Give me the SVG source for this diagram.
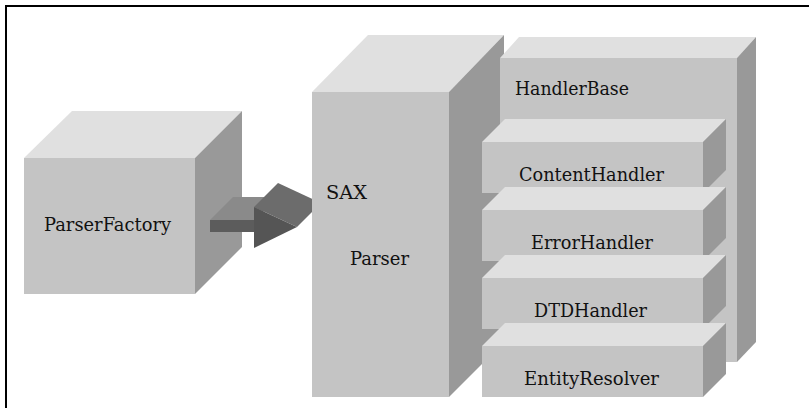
<svg xmlns="http://www.w3.org/2000/svg" width="809" height="408" viewBox="0 0 809 408">
  <style>
    .front { fill: #c4c4c4; }
    .top { fill: #e0e0e0; }
    .side { fill: #999999; }
  </style>
  <rect width="809" height="408" fill="#ffffff"/>
  <!-- frame: only top and left edges fall inside the page -->
  <path d="M6,408 V6 H809" fill="none" stroke="#000000" stroke-width="2"/>

  <g font-family="DejaVu Serif, serif" font-size="19" fill="#111111">
  <g id="parser-factory">
    <polygon class="top" points="24,158 72,111 242,111 195,158"/>
    <polygon class="side" points="195,158 242,111 242,247 195,294"/>
    <rect class="front" x="24" y="158" width="171" height="136"/>
    <text x="44" y="231" textLength="127" lengthAdjust="spacingAndGlyphs">ParserFactory</text>
  </g>

  <g id="connectors">
    <!-- 3D block arrow: shaft then head -->
    <polygon fill="#8a8a8a" points="210,220 233,197 278,197 255,220"/>
    <rect fill="#5c5c5c" x="210" y="220" width="46" height="12"/>
    <polygon fill="#6c6c6c" points="254,207 278,183 321,203 297,227"/>
    <polygon fill="#555555" points="254,207 254,248 297,227"/>
  </g>

  <g id="sax-parser">
    <polygon class="top" points="312,92 368,35 504,35 449,92"/>
    <polygon class="side" points="449,92 504,35 504,342 449,397"/>
    <rect class="front" x="312" y="92" width="137" height="305"/>
    <text x="326" y="199" textLength="41" lengthAdjust="spacingAndGlyphs">SAX</text>
    <text x="350" y="265" textLength="59" lengthAdjust="spacingAndGlyphs">Parser</text>
  </g>

  <g id="handler-base">
    <polygon class="top" points="500,58 519,37 756,37 737,58"/>
    <polygon class="side" points="737,58 756,37 756,342 737,362"/>
    <rect class="front" x="500" y="58" width="237" height="304"/>
    <text x="515" y="95" textLength="114" lengthAdjust="spacingAndGlyphs">HandlerBase</text>
  </g>

  <g id="content-handler">
    <polygon class="top" points="482,142 505,119 726,119 703,142"/>
    <polygon class="side" points="703,142 726,119 726,170 703,193"/>
    <rect class="front" x="482" y="142" width="221" height="51"/>
    <text x="519" y="181" textLength="145" lengthAdjust="spacingAndGlyphs">ContentHandler</text>
  </g>

  <g id="error-handler">
    <polygon class="top" points="482,210 505,187 726,187 703,210"/>
    <polygon class="side" points="703,210 726,187 726,238 703,261"/>
    <rect class="front" x="482" y="210" width="221" height="51"/>
    <text x="531" y="249" textLength="122" lengthAdjust="spacingAndGlyphs">ErrorHandler</text>
  </g>

  <g id="dtd-handler">
    <polygon class="top" points="482,278 505,255 726,255 703,278"/>
    <polygon class="side" points="703,278 726,255 726,306 703,329"/>
    <rect class="front" x="482" y="278" width="221" height="51"/>
    <text x="534" y="317" textLength="113" lengthAdjust="spacingAndGlyphs">DTDHandler</text>
  </g>

  <g id="entity-resolver">
    <polygon class="top" points="482,346 505,323 726,323 703,346"/>
    <polygon class="side" points="703,346 726,323 726,374 703,397"/>
    <rect class="front" x="482" y="346" width="221" height="51"/>
    <text x="524" y="385" textLength="135" lengthAdjust="spacingAndGlyphs">EntityResolver</text>
  </g>
  </g>
</svg>
